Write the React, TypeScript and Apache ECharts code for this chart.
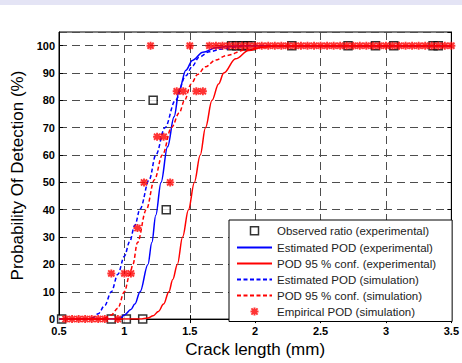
import React, { useEffect, useRef } from "react";
import * as echarts from "echarts";

// Observed ratio (experimental): [crack length mm, POD %]
const observedRatio: number[][] = [
  [0.52, 0], [0.9, 0], [1.015, 0], [1.14, 0], [1.22, 80], [1.32, 40],
  [1.82, 100], [1.86, 100], [1.9, 100], [1.94, 100], [1.97, 100],
  [2.28, 100], [2.71, 100], [2.92, 100], [3.06, 100], [3.36, 100], [3.4, 100],
];

// Estimated POD (experimental)
const estPodExp: number[][] = [
  [0.5, 0], [0.92, 0], [0.97, 0.4], [1.0, 1.5], [1.05, 3.5], [1.08, 5.5], [1.12, 10],
  [1.18, 20], [1.21, 28], [1.24, 38], [1.28, 50], [1.33, 63], [1.38, 74], [1.42, 84],
  [1.47, 91], [1.52, 94.6], [1.6, 97.6], [1.7, 99.2], [1.8, 99.8], [1.9, 100], [3.5, 100],
];

// POD 95 % conf. (experimental)
const pod95Exp: number[][] = [
  [0.5, 0], [1.12, 0], [1.18, 0.4], [1.22, 1.2], [1.26, 2.8], [1.3, 5.5], [1.34, 10],
  [1.37, 14.5], [1.405, 20], [1.445, 30], [1.49, 40], [1.535, 50], [1.58, 60], [1.62, 70],
  [1.67, 80], [1.72, 86], [1.76, 90], [1.85, 95.2], [1.95, 98.2], [2.05, 99.4], [2.15, 100], [3.5, 100],
];

// Estimated POD (simulation)
const estPodSim: number[][] = [
  [0.5, 0], [0.72, 0], [0.76, 0.5], [0.8, 2], [0.85, 5], [0.9, 10], [0.95, 16.4], [1.0, 23],
  [1.04, 28.3], [1.08, 34.3], [1.12, 40.3], [1.19, 51], [1.24, 60], [1.31, 70], [1.39, 80],
  [1.47, 89], [1.52, 92.5], [1.57, 95.8], [1.65, 97.8], [1.75, 98.8], [1.85, 99.5], [1.95, 100], [3.5, 100],
];

// POD 95 % conf. (simulation)
const pod95Sim: number[][] = [
  [0.5, 0], [0.82, 0], [0.86, 0.5], [0.9, 1.5], [0.95, 4], [1.0, 10], [1.04, 16], [1.065, 20],
  [1.1, 28], [1.167, 40], [1.23, 51], [1.29, 60], [1.36, 70], [1.42, 75.5], [1.46, 80],
  [1.51, 86], [1.56, 89.5], [1.62, 92.3], [1.7, 94.8], [1.78, 96.4], [1.93, 98.5],
  [2.05, 99.5], [2.15, 100], [3.5, 100],
];

// Empirical POD (simulation)
const empiricalX: number[] = [
  0.55, 0.6, 0.65, 0.7, 0.75, 0.8, 0.85, 0.9, 0.95, 1.0, 1.05, 1.1, 1.15, 1.2, 1.25, 1.3,
  1.35, 1.4, 1.45, 1.5, 1.55, 1.6, 1.65, 1.7, 1.75, 1.8, 1.85, 1.9, 1.95, 2.0, 2.05, 2.1,
  2.15, 2.2, 2.25, 2.3, 2.35, 2.4, 2.45, 2.5, 2.55, 2.6, 2.65, 2.7, 2.75, 2.8, 2.85, 2.9,
  2.95, 3.0, 3.05, 3.1, 3.15, 3.2, 3.25, 3.3, 3.35, 3.4, 3.45, 3.5,
];
const empiricalY: number[] = [
  0, 0, 0, 0, 0, 0, 0, 16.7, 0, 16.7, 16.7, 33.3, 50, 100, 66.7, 66.7,
  50, 83.3, 83.3, 100, 83.3, 83.3, 100, 100, 100, 100, 100, 100, 100, 100, 100, 100,
  100, 100, 100, 100, 100, 100, 100, 100, 100, 100, 100, 100, 100, 100, 100, 100,
  100, 100, 100, 100, 100, 100, 100, 100, 100, 100, 100, 100,
];

const seriesNames: string[] = [
  "Observed ratio (experimental)",
  "Estimated POD (experimental)",
  "POD 95 % conf. (experimental)",
  "Estimated POD (simulation)",
  "POD 95 % conf. (simulation)",
  "Empirical POD (simulation)",
];

const xTicks = { min: 0.5, max: 3.5, interval: 0.5 };
const yTicks = { min: 0, max: 105, interval: 10 };

const STAR_D =
  "M3.8,0H6.2V10H3.8Z M0,3.8H10V6.2H0Z M0.3,2L2,0.3L9.7,8L8,9.7Z M8,0.3L9.7,2L2,9.7L0.3,8Z M5,1.2L8.8,5L5,8.8L1.2,5Z";
const STAR = "path://" + STAR_D;
const STAR_ICON = "path://M-2.5,-2.5 M12.5,12.5 " + STAR_D;
const SQUARE_ICON = "path://M0,0 M12,12 M2,2H10V10H2Z";

const FONT = "'Liberation Sans', Arial, sans-serif";

export default function App() {
  const ref = useRef<HTMLDivElement>(null);
  useEffect(() => {
    if (!ref.current) return;
    const chart = echarts.init(ref.current, undefined, { renderer: "svg" });
    const grid = "#4d4d4d";
    const hidden = { color: "transparent", borderColor: "transparent", borderWidth: 0, opacity: 0 };
    const lineSeries = (name: string, data: number[][], color: string, dashed: boolean) => ({
      name,
      type: "line",
      data,
      smooth: 0.35,
      smoothMonotone: "x",
      showSymbol: false,
      symbol: "none",
      lineStyle: { color, width: 1.5, type: dashed ? [4, 2.5] : "solid" },
      itemStyle: { color },
      z: 3,
    });
    chart.setOption({
      animation: false,
      backgroundColor: "#fff",
      graphic: [
        { type: "rect", left: 0, top: 0, shape: { width: 462, height: 5 }, style: { fill: "#e4e4f5" } },
      ],
      grid: { left: 59, right: 9, top: 32, bottom: 36, show: true, borderColor: "#000", borderWidth: 1 },
      legend: {
        orient: "vertical",
        left: 229,
        top: 220,
        padding: [4, 16, 4, 7],
        itemWidth: 35,
        itemHeight: 12,
        itemGap: 4,
        backgroundColor: "#fff",
        borderColor: "#000",
        borderWidth: 1,
        borderRadius: 0,
        textStyle: { fontFamily: FONT, fontSize: 11.5, color: "#222" },
        data: [
          { name: seriesNames[0], icon: SQUARE_ICON, itemStyle: { color: "#fff", borderColor: "#000", borderWidth: 1.5 } },
          { name: seriesNames[1], itemStyle: hidden },
          { name: seriesNames[2], itemStyle: hidden },
          { name: seriesNames[3], itemStyle: hidden },
          { name: seriesNames[4], itemStyle: hidden },
          { name: seriesNames[5], icon: STAR_ICON, itemStyle: { color: "#ff0000" } },
        ],
      },
      xAxis: [
        {
          type: "value",
          ...xTicks,
          name: "Crack length (mm)",
          nameLocation: "middle",
          nameGap: 19,
          nameTextStyle: { fontFamily: FONT, fontSize: 17, color: "#000" },
          axisLine: { show: true, lineStyle: { color: "#000" } },
          axisTick: { show: true, inside: true, length: 4, lineStyle: { color: "#000" } },
          axisLabel: {
            fontFamily: FONT,
            fontSize: 11,
            fontWeight: "bold",
            color: "#000",
            margin: 6,
            formatter: (v: number) => String(v),
          },
          splitLine: { show: true, lineStyle: { color: grid, type: [8, 5], width: 1 } },
        },
        {
          type: "value",
          ...xTicks,
          position: "top",
          axisLine: { show: true, lineStyle: { color: "#000" } },
          axisTick: { show: true, inside: true, length: 4, lineStyle: { color: "#000" } },
          axisLabel: { show: false },
          splitLine: { show: false },
        },
      ],
      yAxis: [
        {
          type: "value",
          ...yTicks,
          name: "Probability Of Detection (%)",
          nameLocation: "middle",
          nameGap: 27,
          nameTextStyle: { fontFamily: FONT, fontSize: 17, color: "#000" },
          axisLine: { show: true, lineStyle: { color: "#000" } },
          axisTick: { show: true, inside: true, length: 4, lineStyle: { color: "#000" } },
          axisLabel: {
            fontFamily: FONT,
            fontSize: 11,
            fontWeight: "bold",
            color: "#000",
            margin: 4,
            showMaxLabel: false,
          },
          splitLine: { show: true, lineStyle: { color: grid, type: [8, 5], width: 1 } },
        },
        {
          type: "value",
          ...yTicks,
          position: "right",
          axisLine: { show: true, lineStyle: { color: "#000" } },
          axisTick: { show: true, inside: true, length: 4, lineStyle: { color: "#000" } },
          axisLabel: { show: false },
          splitLine: { show: false },
        },
      ],
      series: [
        {
          name: seriesNames[0],
          type: "scatter",
          data: observedRatio,
          symbol: "rect",
          symbolSize: 8,
          itemStyle: { color: "#fff", borderColor: "#000", borderWidth: 1.5 },
          z: 2,
        },
        lineSeries(seriesNames[1], estPodExp, "#0000ff", false),
        lineSeries(seriesNames[2], pod95Exp, "#ff0000", false),
        lineSeries(seriesNames[3], estPodSim, "#0000ff", true),
        lineSeries(seriesNames[4], pod95Sim, "#ff0000", true),
        {
          name: seriesNames[5],
          type: "scatter",
          data: empiricalX.map((x, i) => [x, empiricalY[i]]),
          symbol: STAR,
          symbolSize: 8,
          itemStyle: { color: "#ff0000" },
          z: 5,
        },
      ],
    });
    return () => chart.dispose();
  }, []);
  return (
    <div
      ref={ref}
      style={{ position: "fixed", left: 0, top: 0, width: 462, height: 363, background: "#fff" }}
    />
  );
}
